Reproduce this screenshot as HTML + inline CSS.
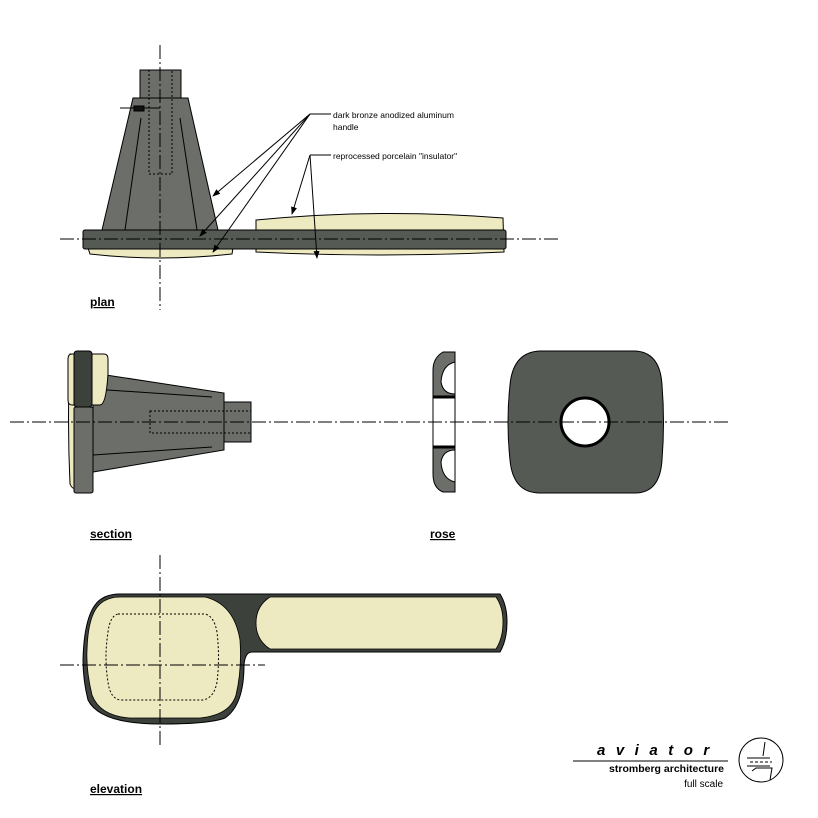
<!DOCTYPE html>
<html><head><meta charset="utf-8"><style>
html,body{margin:0;padding:0;background:#fff;}
svg{display:block;}
text{font-family:"Liberation Sans",sans-serif;}
</style></head><body>
<svg width="818" height="818" viewBox="0 0 818 818" xmlns="http://www.w3.org/2000/svg">
<defs>
<marker id="ar" markerWidth="8" markerHeight="8" refX="7" refY="4" orient="auto" markerUnits="userSpaceOnUse">
<path d="M0,1 L8,4 L0,7 z" fill="#000"/></marker>
</defs>
<g stroke="#000" stroke-width="1">
<!-- PLAN -->
<path d="M256,220 Q380,208 503,218 L504,252 Q380,258 256,252 Z" fill="#ede9c0"/>
<path d="M88,248 L233,248 L232,254 Q160,262 90,254 Z" fill="#ede9c0"/>
<rect x="140" y="70" width="41" height="28" fill="#6b6e69"/>
<path d="M133,98 L188,98 L218,230 L102,230 Z" fill="#6b6e69"/>
<line x1="141" y1="118" x2="125" y2="230"/>
<line x1="180" y1="118" x2="197" y2="230"/>
<rect x="149" y="70" width="23" height="104" fill="none" stroke-dasharray="2,2"/>
<rect x="83" y="230" width="423" height="19" rx="2" fill="#555a55"/>
<rect x="134" y="106" width="10" height="5" fill="#111"/>
<line x1="120" y1="108" x2="134" y2="108"/><line x1="144" y1="108" x2="160" y2="108"/>
<line x1="60" y1="239" x2="558" y2="239" stroke-dasharray="14,3,2,3"/>
<line x1="160" y1="45" x2="160" y2="310" stroke-dasharray="14,3,2,3"/>
<!-- leaders -->
<line x1="310" y1="114" x2="331" y2="114"/>
<line x1="310" y1="114" x2="213" y2="196" marker-end="url(#ar)"/>
<line x1="310" y1="114" x2="200" y2="236" marker-end="url(#ar)"/>
<line x1="310" y1="114" x2="213" y2="252" marker-end="url(#ar)"/>
<line x1="310" y1="155" x2="331" y2="155"/>
<line x1="310" y1="155" x2="292" y2="214" marker-end="url(#ar)"/>
<line x1="310" y1="155" x2="317" y2="258" marker-end="url(#ar)"/>
<!-- SECTION -->
<path d="M70,354 Q67,420 70,484 Q72,489 76,489 L76,354 Z" fill="#ede9c0"/>
<path d="M93,373 L224,393 L224,450 L93,472 Z" fill="#6b6e69"/>
<line x1="93" y1="389" x2="212" y2="397"/>
<line x1="93" y1="455" x2="212" y2="447"/>
<rect x="224" y="402" width="27" height="40" fill="#6b6e69"/>
<rect x="150" y="411" width="101" height="22" fill="none" stroke-dasharray="2,2"/>
<path d="M72,354 L104,354 Q108,354 108,359 L108,374 Q106,405 100,405 L72,405 Q68,405 68,400 L68,359 Q68,354 72,354 Z" fill="#ede9c0"/>
<rect x="74" y="407" width="19" height="86" rx="2" fill="#6b6e69"/>
<rect x="74" y="351" width="18" height="56" rx="3" fill="#3c413c"/>
<!-- rose section -->
<path d="M455,352 L443,352 Q433,358 433,370 L433,420 L433,474 Q433,488 443,492 L455,492 Z" fill="#6b6e69"/>
<path d="M455,362 Q442,365 441,382 Q443,394 455,394 Z" fill="#fff"/>
<path d="M455,482 Q442,479 441,462 Q443,450 455,450 Z" fill="#fff"/>
<rect x="433" y="397" width="22" height="50" fill="#fff"/>
<rect x="433" y="396" width="22" height="2" fill="#000"/>
<rect x="433" y="446" width="22" height="2" fill="#000"/>
<!-- rose front -->
<path d="M540,351 L635,351 Q660,352 662,385 Q665,422 662,460 Q660,493 635,493 L540,493 Q513,493 510,460 Q506,422 510,385 Q513,352 540,351 Z" fill="#555a55"/>
<circle cx="585" cy="422" r="24" fill="#fff" stroke-width="3"/>
<line x1="10" y1="422" x2="728" y2="422" stroke-dasharray="14,3,2,3"/>
<!-- ELEVATION -->
<path d="M120,594 L500,594 Q507,605 507,622 Q507,640 500,652 L252,652 Q245,652 244,665 Q244,705 225,718 Q210,724 160,724 Q100,724 88,700 Q83,680 83,660 Q84,620 95,605 Q103,594 120,594 Z" fill="#3c413c"/>
<path d="M270,597 L496,597 Q503,607 503,622 Q503,638 496,649 L270,649 Q256,640 256,623 Q256,606 270,597 Z" fill="#ede9c0" stroke-width="0.8"/>
<path d="M120,597 L205,597 Q234,604 240,640 Q242,670 236,695 Q230,715 200,718 L130,718 Q100,716 92,695 Q86,670 87,650 Q88,615 100,604 Q108,597 120,597 Z" fill="#ede9c0" stroke-width="0.8"/>
<path d="M118,614 L205,614 Q214,616 217,632 Q220,658 217,682 Q214,698 203,700 L120,700 Q110,698 108,682 Q104,658 108,632 Q110,616 118,614 Z" fill="none" stroke-dasharray="2,2"/>
<line x1="60" y1="665" x2="265" y2="665" stroke-dasharray="14,3,2,3"/>
<line x1="160" y1="555" x2="160" y2="745" stroke-dasharray="14,3,2,3"/>
<!-- title -->
<line x1="573" y1="761" x2="728" y2="761"/>
<circle cx="761" cy="760" r="22" fill="none"/>
<path d="M747,758 L770,758 M747,766 L770,766 M765,742 L763,756 M752,771 L756,768 L772,768 L770,780" fill="none"/>
<line x1="750" y1="762" x2="772" y2="762" stroke-dasharray="3,2"/>
</g>
<g font-size="8.5" fill="#000">
<text x="333" y="118">dark bronze anodized aluminum</text>
<text x="333" y="130">handle</text>
<text x="333" y="159">reprocessed porcelain "insulator"</text>
</g>
<g font-size="12" font-weight="bold" text-decoration="underline" fill="#000">
<text x="90" y="306">plan</text>
<text x="90" y="538">section</text>
<text x="430" y="538">rose</text>
<text x="90" y="793">elevation</text>
</g>
<text x="597" y="755" font-size="15" font-weight="bold" font-style="italic" letter-spacing="10.5">aviator</text>
<text x="724" y="772" font-size="10.5" font-weight="bold" text-anchor="end">stromberg architecture</text>
<text x="723" y="787" font-size="10" text-anchor="end">full scale</text>
</svg>
</body></html>
